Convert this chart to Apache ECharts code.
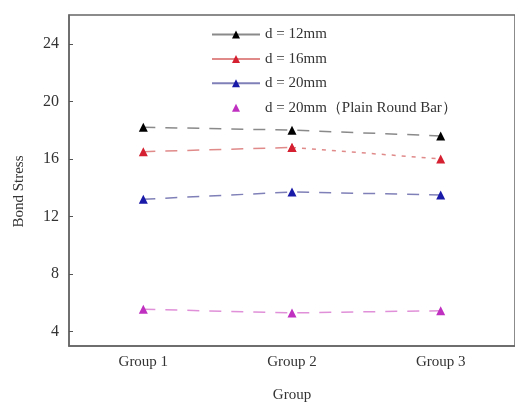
<!DOCTYPE html>
<html>
<head>
<meta charset="utf-8">
<script src="https://cdn.jsdelivr.net/npm/echarts@6/dist/echarts.min.js"></script>
<style>
  html, body { margin: 0; padding: 0; background: #fff; }
  #chart { width: 515px; height: 408px; }
</style>
</head>
<body>
<div id="chart"></div>
<script>
// Bond stress per test group for each bar diameter
const groups = ['Group 1', 'Group 2', 'Group 3'];
const d12 = [18.2, 18.0, 17.6];
const d16 = [16.5, 16.8, 16.0];
const d20 = [13.2, 13.7, 13.5];
const d20Plain = [5.55, 5.3, 5.45];
const yTicks = [4, 8, 12, 16, 20, 24];

const serif = '"Liberation Serif", "DejaVu Serif", serif';

function lineSeries(name, data, markColor, lineColor, dash) {
  return {
    name: name,
    type: 'line',
    data: data,
    symbol: 'triangle',
    symbolSize: 9,
    itemStyle: { color: markColor },
    lineStyle: { color: lineColor, width: 1.5, type: dash },
    z: 3
  };
}

// red series: the Group 2 -> Group 3 stretch is drawn dotted
const d16First = d16.map((v, i) => (i <= 1 ? v : null));
const d16Second = d16.map((v, i) => (i >= 1 ? v : null));

const chart = echarts.init(document.getElementById('chart'));
chart.setOption({
  animation: false,
  backgroundColor: '#fff',
  grid: { left: 69, right: -3, top: 15, bottom: 59, show: true, borderColor: '#666', borderWidth: 1.5 },
  legend: {
    orient: 'vertical',
    left: 206,
    top: 22,
    itemWidth: 48,
    itemHeight: 10,
    itemGap: 9.4,
    textStyle: { fontFamily: serif, fontSize: 15, color: '#333' },
    data: [
      { name: 'd = 12mm', lineStyle: { type: 'solid' } },
      { name: 'd = 16mm', lineStyle: { type: 'solid' } },
      { name: 'd = 20mm', lineStyle: { type: 'solid' } },
      { name: 'd = 20mm（Plain Round Bar）', lineStyle: { opacity: 0 } }
    ]
  },
  xAxis: {
    type: 'category',
    data: groups,
    name: 'Group',
    nameLocation: 'middle',
    nameGap: 42,
    nameTextStyle: { fontFamily: serif, fontSize: 15, color: '#333' },
    axisLine: { lineStyle: { color: '#666', width: 1.5 } },
    axisTick: { inside: true, alignWithLabel: true, length: 4, lineStyle: { color: '#555' } },
    axisLabel: { fontFamily: serif, fontSize: 15, color: '#333', margin: 9 },
    splitLine: { show: false }
  },
  yAxis: {
    type: 'value',
    min: 3,
    max: 26,
    name: 'Bond Stress',
    nameLocation: 'middle',
    nameGap: 42,
    nameTextStyle: { fontFamily: serif, fontSize: 15, color: '#333', padding: [0, 22, 0, 0] },
    axisLine: { show: true, lineStyle: { color: '#666', width: 1.5 } },
    axisTick: { show: true, inside: true, length: 4, customValues: yTicks, lineStyle: { color: '#555' } },
    axisLabel: { fontFamily: serif, fontSize: 16, color: '#333', margin: 10, customValues: yTicks },
    splitLine: { show: false }
  },
  series: [
    lineSeries('d = 12mm', d12, '#000000', '#8a8a8a', [12, 10]),
    lineSeries('d = 16mm', d16First, '#d42030', '#e08a8a', [12, 10]),
    lineSeries('d = 16mm', d16Second, '#d42030', '#e08a8a', [4, 6]),
    lineSeries('d = 20mm', d20, '#1a1aa8', '#8080b8', [12, 10]),
    lineSeries('d = 20mm（Plain Round Bar）', d20Plain, '#c030c0', '#e090d8', [12, 10])
  ]
});
</script>
</body>
</html>
